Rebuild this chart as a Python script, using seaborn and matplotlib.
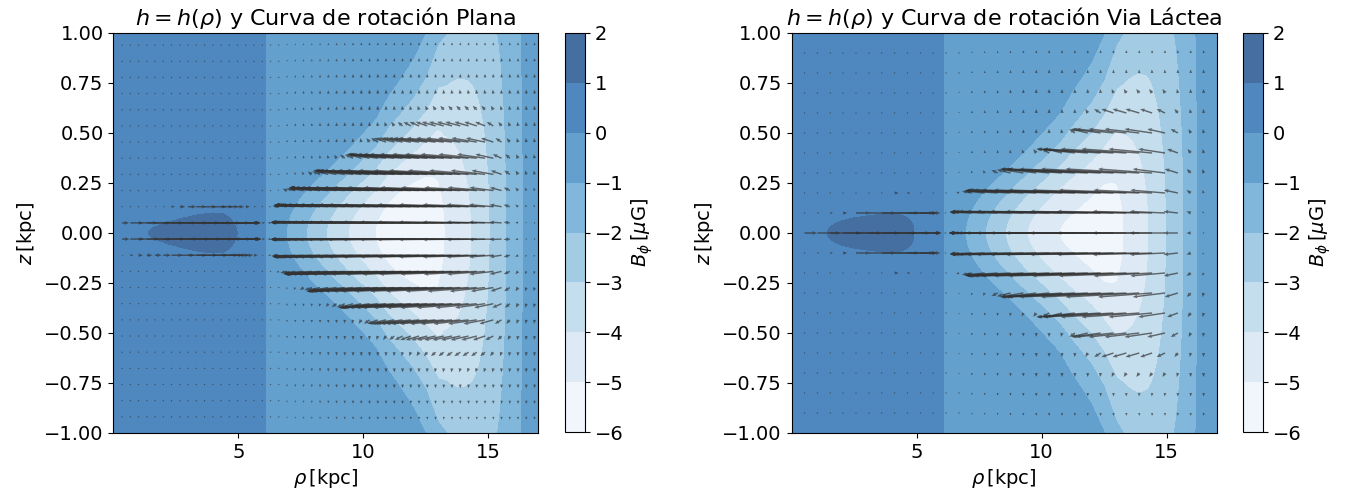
import numpy as np
import matplotlib
matplotlib.use("Agg")
import matplotlib.pyplot as plt
import seaborn as sns

# ---------------------------------------------------------------------------
# Data
# ---------------------------------------------------------------------------
LEVELS = [-6, -5, -4, -3, -2, -1, 0, 1, 2]          # B_phi contour levels [muG]
CBAR_TICKS = [2, 1, 0, -1, -2, -3, -4, -5, -6]
X_TICKS = [5, 10, 15]
Y_TICKS = [-1.0, -0.75, -0.5, -0.25, 0.0, 0.25, 0.5, 0.75, 1.0]
TITLES = [r"$h = h(\rho)$ y Curva de rotación Plana",
          r"$h = h(\rho)$ y Curva de rotación Via Láctea"]
RHO_BREAK = 6.08                                      # kpc, sign change of B_phi

# --- Curva de rotación Plana ------------------------------------------------
plana_in_rho = [0.0, 0.7, 1.41, 2.0, 2.5, 3.0, 3.5, 4.0, 4.4, 4.7, 4.85, 4.95, 5.3, 5.7, 6.08]
plana_in_bphi = [0.45, 0.75, 1.0, 1.13, 1.28, 1.46, 1.67, 1.81, 1.71, 1.34, 1.1, 1.0, 0.8, 0.6, 0.45]
plana_in_h = 0.13
plana_out_rho = [6.09, 6.5, 6.93, 7.73, 8.53, 9.4, 10.47, 11.0, 11.5, 12.0, 12.5, 13.0,
                 13.27, 14.33, 15.07, 15.74, 16.4, 17.0]
plana_out_bphi = [-0.1, -0.45, -1.0, -2.0, -3.0, -4.0, -5.0, -5.45, -5.7, -5.8, -5.75, -5.4,
                  -5.0, -4.0, -3.0, -2.0, -1.0, -0.6]
plana_out_h = [0.18, 0.2, 0.22, 0.26, 0.3, 0.36, 0.45, 0.53, 0.59, 0.66, 0.76, 0.95,
               1.03, 1.4, 1.8, 2.3, 2.9, 3.5]

# poloidal field arrows (length in kpc along rho at the midplane)
plana_arr_rho = 0.35 + 0.33 * np.arange(51)
plana_arr_z = np.linspace(-1, 1, 100)[4::4]
plana_arr_in_rho = [0.35, 1.0, 2.0, 3.0, 4.0, 4.5, 5.0, 5.5, 6.08]
plana_arr_in_len = [0.3, 0.8, 1.4, 1.8, 1.9, 1.45, 0.85, 0.35, 0.05]
plana_arr_in_w = [0.1, 0.1, 0.1, 0.115, 0.125, 0.125, 0.125, 0.125, 0.125]
plana_arr_out_rho = [6.09, 6.5, 7.0, 8.0, 9.0, 10.0, 11.0, 12.0, 13.0, 14.0, 15.0, 15.5, 16.0, 16.5, 17.0]
plana_arr_out_len = [-0.05, -0.2, -0.7, -1.7, -2.7, -3.6, -4.3, -4.5, -4.3, -3.2, -1.3, -0.5, -0.15, -0.05, -0.03]
plana_arr_out_w = [0.15, 0.18, 0.2, 0.24, 0.28, 0.32, 0.38, 0.42, 0.45, 0.47, 0.5, 0.5, 0.5, 0.5, 0.5]

# --- Curva de rotación Via Láctea -----------------------------------------
vl_in_rho = [0.0, 0.7, 1.43, 2.0, 2.5, 3.0, 3.5, 4.0, 4.4, 4.7, 4.85, 4.9, 5.3, 5.7, 6.08]
vl_in_bphi = [0.45, 0.75, 1.0, 1.24, 1.40, 1.53, 1.65, 1.71, 1.61, 1.34, 1.1, 1.0, 0.8, 0.6, 0.45]
vl_in_h = 0.13
vl_out_rho = [6.09, 6.5, 6.96, 7.76, 8.56, 9.43, 10.7, 11.2, 12.0, 12.5, 13.0, 13.3,
              14.3, 15.0, 15.7, 16.25, 17.0]
vl_out_bphi = [-0.1, -0.45, -1.0, -2.0, -3.0, -4.0, -5.0, -5.15, -5.4, -5.55, -5.35, -5.0,
               -4.0, -3.0, -2.0, -1.0, -0.6]
vl_out_h = [0.18, 0.2, 0.22, 0.26, 0.3, 0.36, 0.47, 0.55, 0.66, 0.76, 0.95, 1.05,
            1.45, 1.8, 2.3, 2.9, 3.5]

vl_arr_rho = 0.52 + 0.515 * np.arange(32)
vl_arr_z = np.round(np.arange(-0.9, 0.91, 0.1), 2)
vl_arr_in_rho = [0.52, 1.0, 2.0, 3.0, 4.0, 4.5, 5.0, 5.5, 6.08]
vl_arr_in_len = [0.5, 0.9, 1.5, 1.9, 1.95, 1.5, 0.95, 0.45, 0.05]
vl_arr_in_w = [0.08, 0.08, 0.08, 0.11, 0.16, 0.16, 0.16, 0.16, 0.16]
vl_arr_out_rho = [6.09, 6.5, 7.0, 8.0, 9.0, 10.0, 11.0, 12.0, 13.0, 14.0, 15.0, 15.5, 16.0, 16.5, 17.0]
vl_arr_out_len = [-0.05, -0.2, -0.7, -1.7, -2.7, -3.6, -4.3, -4.5, -4.3, -3.2, -1.3, -0.5, -0.15, -0.05, -0.03]
vl_arr_out_w = [0.15, 0.18, 0.2, 0.24, 0.28, 0.3, 0.35, 0.44, 0.5, 0.52, 0.55, 0.55, 0.55, 0.55, 0.55]

# vertical component of the arrows (outer disc, pointing away from the midplane)
arr_v_rho = [0.0, 6.08, 6.09, 7.0, 10.0, 14.0, 17.0]
arr_v_amp = [0.0, 0.0, 0.0, 0.012, 0.02, 0.02, 0.02]
arr_v_absz = [0.0, 0.15, 0.3, 0.7, 1.0]
arr_v_prof = [0.0, 0.6, 1.0, 1.0, 0.6]

PANELS = [
    dict(title=TITLES[0],
         in_rho=plana_in_rho, in_b=plana_in_bphi, in_h=plana_in_h,
         out_rho=plana_out_rho, out_b=plana_out_bphi, out_h=plana_out_h,
         q_rho=plana_arr_rho, q_z=plana_arr_z,
         a_in_rho=plana_arr_in_rho, a_in_len=plana_arr_in_len, a_in_w=plana_arr_in_w,
         a_out_rho=plana_arr_out_rho, a_out_len=plana_arr_out_len, a_out_w=plana_arr_out_w),
    dict(title=TITLES[1],
         in_rho=vl_in_rho, in_b=vl_in_bphi, in_h=vl_in_h,
         out_rho=vl_out_rho, out_b=vl_out_bphi, out_h=vl_out_h,
         q_rho=vl_arr_rho, q_z=vl_arr_z,
         a_in_rho=vl_arr_in_rho, a_in_len=vl_arr_in_len, a_in_w=vl_arr_in_w,
         a_out_rho=vl_arr_out_rho, a_out_len=vl_arr_out_len, a_out_w=vl_arr_out_w),
]

# ---------------------------------------------------------------------------
# Style
# ---------------------------------------------------------------------------
sns.set_style("ticks", rc={"axes.edgecolor": "black", "xtick.color": "black",
                           "ytick.color": "black", "text.color": "black",
                           "axes.labelcolor": "black", "axes.linewidth": 1.0})
plt.rcParams["font.family"] = ["DejaVu Sans"]
plt.rcParams["mathtext.fontset"] = "dejavusans"
plt.rcParams["axes.unicode_minus"] = True
plt.rcParams["patch.force_edgecolor"] = False

# Blues bands, washed towards white (75 % opacity pre-blended)
blues = sns.color_palette("Blues", as_cmap=True)
n_bands = len(LEVELS) - 1
band_rgb = blues((np.arange(n_bands) + 0.5) / n_bands)[:, :3]
band_colors = [tuple(0.75 * c + 0.25) for c in band_rgb]

FS = 14
FS_TITLE = 16


def bphi_field(p, R, Z):
    inner = R <= RHO_BREAK
    a_in = np.interp(R, p["in_rho"], p["in_b"])
    a_out = np.interp(R, p["out_rho"], p["out_b"])
    h_out = np.interp(R, p["out_rho"], p["out_h"])
    return np.where(inner, a_in * np.exp(-(Z / p["in_h"]) ** 2),
                    a_out * np.exp(-(Z / h_out) ** 2))


def arrow_field(p, R, Z):
    inner = R <= RHO_BREAK
    l_in = np.interp(R, p["a_in_rho"], p["a_in_len"])
    w_in = np.interp(R, p["a_in_rho"], p["a_in_w"])
    l_out = np.interp(R, p["a_out_rho"], p["a_out_len"])
    w_out = np.interp(R, p["a_out_rho"], p["a_out_w"])
    U = np.where(inner, l_in * np.exp(-(Z / w_in) ** 4),
                 l_out * np.exp(-(Z / w_out) ** 4))
    V = (np.sign(Z) * np.interp(R, arr_v_rho, arr_v_amp)
         * np.interp(np.abs(Z), arr_v_absz, arr_v_prof))
    return U, V


fig = plt.figure(figsize=(13.47, 5.0), dpi=100)
W, H = 1347.0, 500.0
ax_left = [113.3, 791.5]
cb_left = [565.0, 1243.3]

rho_grid = np.concatenate([np.linspace(0.0, RHO_BREAK, 320), np.linspace(6.09, 17.0, 640)])
z_grid = np.linspace(-1.0, 1.0, 401)
RG, ZG = np.meshgrid(rho_grid, z_grid)

for i, p in enumerate(PANELS):
    ax = fig.add_axes([ax_left[i] / W, 67 / H, 425 / W, 400 / H])
    cax = fig.add_axes([cb_left[i] / W, 68 / H, 20 / W, 399 / H])

    B = bphi_field(p, RG, ZG)
    cs = ax.contourf(RG, ZG, B, levels=LEVELS, colors=band_colors)

    QR, QZ = np.meshgrid(p["q_rho"], p["q_z"])
    U, V = arrow_field(p, QR, QZ)
    ax.quiver(QR, QZ, U, V, angles="xy", scale_units="xy", scale=1,
              color="#333333", alpha=0.7, width=0.0034,
              headwidth=2.6, headlength=3.2, headaxislength=2.9, zorder=3)

    ax.set_xlim(0, 17)
    ax.set_ylim(-1, 1)
    ax.set_xticks(X_TICKS)
    ax.set_yticks(Y_TICKS)
    ax.tick_params(labelsize=FS)
    ax.set_xlabel(r"$\rho\,$[kpc]", fontsize=FS)
    ax.set_ylabel(r"$z\,$[kpc]", fontsize=FS)
    ax.set_title(p["title"], fontsize=FS_TITLE)

    cb = fig.colorbar(cs, cax=cax)
    cb.set_ticks(CBAR_TICKS)
    cb.ax.tick_params(labelsize=FS)
    cb.set_label(r"$B_\phi\,[\mu$G]", fontsize=FS)

fig.savefig("out.png", dpi=100)
